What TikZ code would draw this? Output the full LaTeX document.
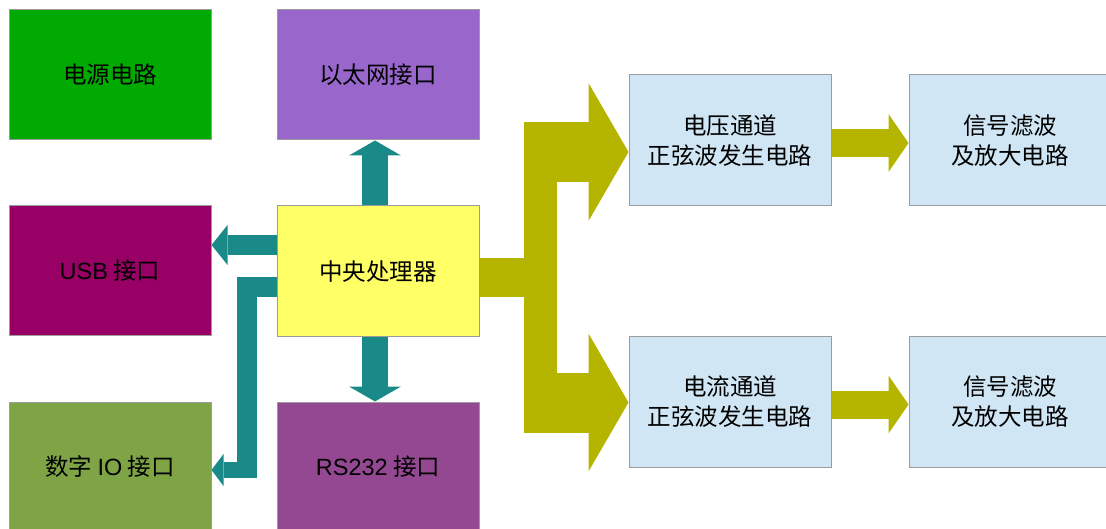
\documentclass[tikz,border=0pt]{standalone}
\usepackage{fontspec}
\setmainfont{Liberation Sans}
\newfontfamily\cjk{Noto Sans CJK SC}
\usetikzlibrary{arrows.meta}
\definecolor{cgreen}{RGB}{0,170,0}
\definecolor{ceth}{RGB}{153,102,204}
\definecolor{cusb}{RGB}{153,0,102}
\definecolor{ccpu}{RGB}{255,255,102}
\definecolor{cdio}{RGB}{126,164,70}
\definecolor{crs}{RGB}{148,72,146}
\definecolor{cblue}{RGB}{208,230,244}
\definecolor{cteal}{RGB}{26,138,137}
\definecolor{colive}{RGB}{181,181,0}
\definecolor{boxline}{RGB}{155,155,155}
\begin{document}
\begin{tikzpicture}[x=1pt,y=-1pt,
  box/.style={draw=boxline, line width=1pt, minimum width=202pt, minimum height=130pt,
    inner sep=0pt, align=center, font=\fontsize{23.5}{30}\selectfont\cjk},
  tarrow/.style={draw=cteal, line width=26pt, line join=miter,
    -{Triangle[length=15pt,width=52pt,line width=0pt]}},
  oarrow/.style={draw=colive, line width=28pt,
    -{Triangle[length=20pt,width=58pt,line width=0pt]}},
  oarm/.style={draw=colive, line width=60pt,
    -{Triangle[length=40pt,width=138pt,line width=0pt]}}]
\useasboundingbox (0,0) rectangle (1106,529);

\node[box, fill=cgreen] (pwr) at (110,75) {电源电路};
\node[box, fill=ceth] (eth) at (378,75) {以太网接口};
\node[box, fill=cusb] (usb) at (110,271) {{\rmfamily USB} 接口};
\node[box, fill=ccpu, minimum height=131pt] (cpu) at (378,271.5) {中央处理器};
\node[box, fill=cdio] (dio) at (110,467) {数字 {\rmfamily IO} 接口};
\node[box, fill=crs] (rs) at (378,467) {{\rmfamily RS232} 接口};
\node[box, fill=cblue, minimum height=131pt] (volt) at (730,140.5) {电压通道\\正弦波发生电路};
\node[box, fill=cblue] (curr) at (730,402) {电流通道\\正弦波发生电路};
\node[box, fill=cblue, minimum height=131pt] (f1) at (1010,140.5) {信号滤波\\及放大电路};
\node[box, fill=cblue] (f2) at (1010,402) {信号滤波\\及放大电路};

% teal connectors
\draw[tarrow] (cpu.north -| 375,0) -- (eth.south -| 375,0);
\draw[tarrow] (cpu.south -| 375,0) -- (rs.north -| 375,0);
\draw[tarrow, line width=20pt, -{Triangle[length=16pt,width=40pt,line width=0pt]}]
  (cpu.west |- 0,245) -- (usb.east |- 0,245);
\draw[cteal, line width=20pt, line join=miter] (cpu.west |- 0,287) -| (247,478);
\draw[tarrow, line width=16pt, -{Triangle[length=12pt,width=32pt,line width=0pt]}]
  (257,470) -- (dio.east |- 0,470);

% olive connectors
\draw[colive, line width=39pt] (cpu.east |- 0,277.5) -- (541,277.5);
\draw[colive, line width=33pt] (540.5,122) -- (540.5,433);
\draw[oarm] (524,152) -- (volt.west |- 0,152);
\draw[oarm] (524,402.5) -- (curr.west |- 0,402.5);
\draw[oarrow] (volt.east |- 0,143) -- (f1.west |- 0,143);
\draw[oarrow] (curr.east |- 0,404.5) -- (f2.west |- 0,404.5);
\end{tikzpicture}
\end{document}
